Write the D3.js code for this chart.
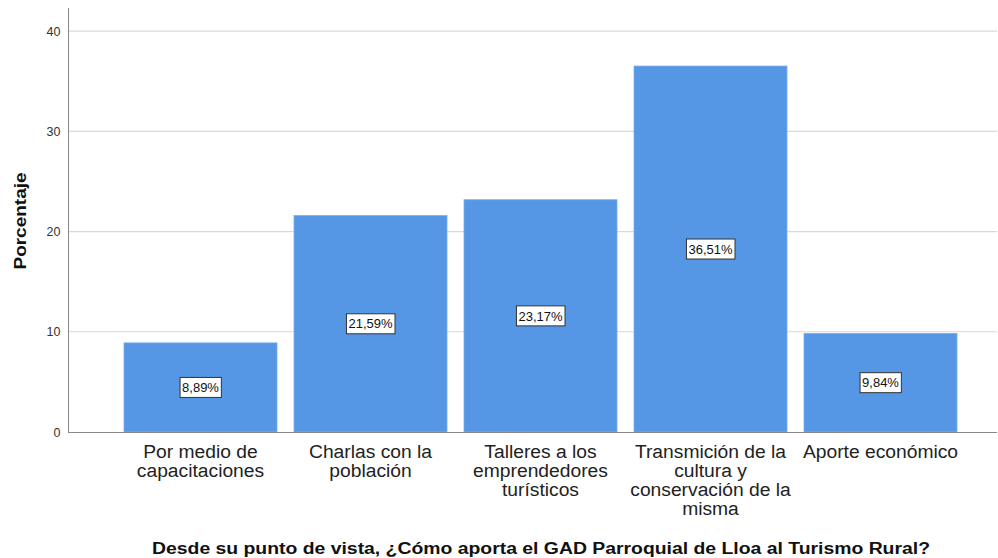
<!DOCTYPE html>
<html>
<head>
<meta charset="utf-8">
<script src="https://cdn.jsdelivr.net/npm/d3@7"></script>
<style>
  body { margin: 0; background: #fff; }
  text { font-family: Arial, "Liberation Sans", sans-serif; }
</style>
</head>
<body>
<div id="chart"></div>
<script>
// categories (each split into the lines shown under the bar)
var categories = [
    ["Por medio de", "capacitaciones"],
    ["Charlas con la", "población"],
    ["Talleres a los", "emprendedores", "turísticos"],
    ["Transmición de la", "cultura y", "conservación de la", "misma"],
    ["Aporte económico"]
];
var values = [8.89, 21.59, 23.17, 36.51, 9.84];
var yTicks = [0, 10, 20, 30, 40];

var width = 998,
    height = 558;

var svg = d3.select("#chart").append("svg")
    .attr("width", width)
    .attr("height", height);

var x = d3.scaleBand()
    .domain(d3.range(values.length))
    .range([107, 974])
    .paddingInner(0.1)
    .paddingOuter(0.1);

var y = d3.scaleLinear()
    .domain([0, 42.3])
    .range([432, 8]);

// grid lines
svg.append("g")
    .selectAll("line")
    .data(yTicks.slice(1))
    .enter().append("line")
    .attr("x1", 69)
    .attr("x2", 997)
    .attr("y1", function(d) { return y(d); })
    .attr("y2", function(d) { return y(d); })
    .attr("stroke", "#d9d9d9")
    .attr("stroke-width", 1.2);

// bars
svg.append("g")
    .selectAll("rect")
    .data(values)
    .enter().append("rect")
    .attr("x", function(d, i) { return x(i); })
    .attr("y", function(d) { return y(d); })
    .attr("width", x.bandwidth())
    .attr("height", function(d) { return y(0) - y(d); })
    .attr("fill", "#5596e5")
    .attr("stroke", "#7aaeea")
    .attr("stroke-width", 0.8);

// y axis
var yAxis = d3.axisLeft(y).tickValues(yTicks).tickSize(0).tickPadding(8);
var gy = svg.append("g")
    .attr("transform", "translate(68.5,0)")
    .call(yAxis);
gy.select(".domain").attr("stroke", "#888").attr("d", "M0,8V432.5");
gy.selectAll("text").attr("font-size", 12.5).attr("fill", "#333")
    .attr("font-family", "Arial, 'Liberation Sans', sans-serif");

// x axis line
svg.append("line")
    .attr("x1", 68).attr("x2", 997)
    .attr("y1", 432.5).attr("y2", 432.5)
    .attr("stroke", "#888");

// category labels
var cat = svg.append("g")
    .selectAll("text")
    .data(categories)
    .enter().append("text")
    .attr("text-anchor", "middle")
    .attr("font-size", 18)
    .attr("fill", "#222")
    .attr("transform", function(d, i) {
        return "translate(" + (x(i) + x.bandwidth() / 2) + ",458) scale(1.07,1)";
    });
cat.selectAll("tspan")
    .data(function(d) { return d; })
    .enter().append("tspan")
    .attr("x", 0)
    .attr("dy", function(d, i) { return i === 0 ? 0 : 19; })
    .text(function(d) { return d; });

// value labels
var lab = svg.append("g")
    .selectAll("g")
    .data(values)
    .enter().append("g")
    .attr("transform", function(d, i) {
        return "translate(" + (x(i) + x.bandwidth() / 2) + "," + y(d / 2) + ")";
    });
lab.append("text")
    .attr("text-anchor", "middle")
    .attr("dy", "0.36em")
    .attr("font-size", 13)
    .attr("fill", "#111")
    .text(function(d) { return d.toFixed(2).replace(".", ",") + "%"; });
lab.each(function() {
    var g = d3.select(this);
    var bb = g.select("text").node().getBBox();
    g.insert("rect", "text")
        .attr("x", bb.x - 2)
        .attr("y", -10)
        .attr("width", bb.width + 4)
        .attr("height", 20)
        .attr("fill", "#fff")
        .attr("stroke", "#333")
        .attr("stroke-width", 1);
});

// axis titles
svg.append("text")
    .attr("transform", "translate(26,221) rotate(-90)")
    .attr("text-anchor", "middle")
    .attr("font-size", 16)
    .attr("font-weight", "bold")
    .attr("fill", "#111")
    .attr("textLength", 97)
    .attr("lengthAdjust", "spacingAndGlyphs")
    .text("Porcentaje");

svg.append("text")
    .attr("x", 541)
    .attr("y", 554)
    .attr("text-anchor", "middle")
    .attr("font-size", 16)
    .attr("font-weight", "bold")
    .attr("fill", "#111")
    .attr("textLength", 778)
    .attr("lengthAdjust", "spacingAndGlyphs")
    .text("Desde su punto de vista, ¿Cómo aporta el GAD Parroquial de Lloa al Turismo Rural?");
</script>
</body>
</html>
